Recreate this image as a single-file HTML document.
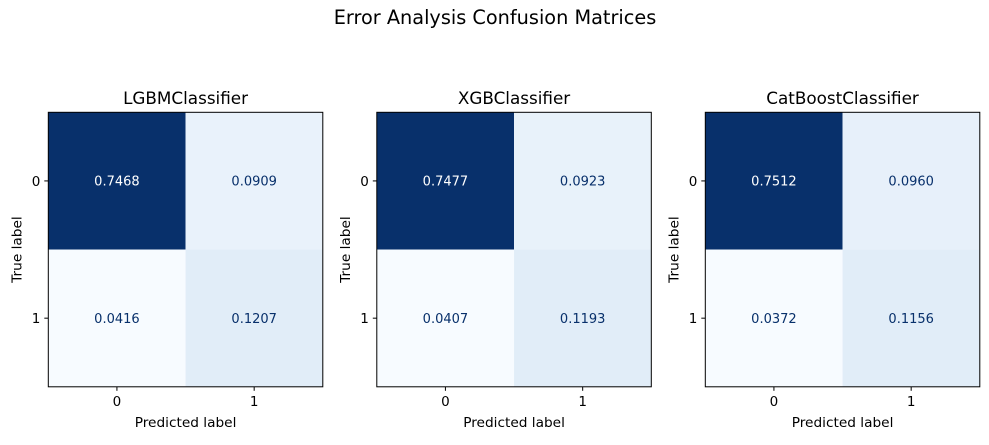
<!DOCTYPE html>
<html><head><meta charset="utf-8"><style>
html,body{margin:0;padding:0;background:#fff;}
svg text{font-family:"DejaVu Sans","Liberation Sans",sans-serif;}
</style></head><body>
<svg id="fig" width="989" height="440" viewBox="0 0 989 440" xmlns="http://www.w3.org/2000/svg">
<text x="495" y="24" text-anchor="middle" font-size="19.3" fill="#000">Error Analysis Confusion Matrices</text>
</svg>
<script>
const models = ["LGBMClassifier","XGBClassifier","CatBoostClassifier"];
const lgbmValues = [0.7468,0.0909,0.0416,0.1207];
const xgbValues = [0.7477,0.0923,0.0407,0.1193];
const catValues = [0.7512,0.0960,0.0372,0.1156];
const classLabels = ["0","1"];
const allValues = [lgbmValues,xgbValues,catValues];

const blues = ["#f7fbff","#deebf7","#c6dbef","#9ecae1","#6baed6","#4292c6","#2171b5","#08519c","#08306b"];
function hex(c){return [1,3,5].map(i=>parseInt(c.substr(i,2),16));}
function cmap(t){t=Math.max(0,Math.min(1,t));const p=t*8,i=Math.min(7,Math.floor(p)),f=p-i;
 const a=hex(blues[i]),b=hex(blues[i+1]);return "rgb("+a.map((v,k)=>Math.round(v+(b[k]-v)*f)).join(",")+")";}

const svg=document.getElementById('fig');
const NS="http://www.w3.org/2000/svg";
function mk(tag,attrs,parent){const e=document.createElementNS(NS,tag);for(const k in attrs)e.setAttribute(k,attrs[k]);(parent||svg).appendChild(e);return e;}
const axLeft=[48.3,376.8,705.3], axTop=112.3, axSize=274.5;

models.forEach((m,mi)=>{
 const vals=allValues[mi];
 const g=mk('g',{});
 
 
 const x0=axLeft[mi], cw=axSize/classLabels.length;
 const xs=i=>x0+i*cw, ys=i=>axTop+i*cw;
 const mn=Math.min(...vals), mx=Math.max(...vals);
 vals.forEach((v,k)=>{
  const r=Math.floor(k/2), c=k%2, t=(v-mn)/(mx-mn);
  const rect=mk('rect',{x:xs(c),y:ys(r),width:cw,height:cw,fill:cmap(t)},g);
  
  
  const tx=mk('text',{x:xs(c)+cw/2,y:ys(r)+cw/2+4.7,'text-anchor':'middle','font-size':'13',fill:t>0.5?'#ffffff':'#08306b'},g);
  tx.textContent=v.toFixed(4);
  
  
 });
 const fr=mk('rect',{x:x0,y:axTop,width:axSize,height:axSize,fill:'none',stroke:'#000','stroke-width':1},g);
 
 
 classLabels.forEach((l,i)=>{
  const cx=xs(i)+cw/2, cy=ys(i)+cw/2;
  mk('line',{x1:cx,y1:axTop+axSize,x2:cx,y2:axTop+axSize+4,stroke:'#000'},g);
  mk('line',{x1:x0-4,y1:cy,x2:x0,y2:cy,stroke:'#000'},g);
  const a=mk('text',{x:cx,y:axTop+axSize+19,'text-anchor':'middle','font-size':'13.5'},g);a.textContent=l;
  
  
  const b=mk('text',{x:x0-8,y:cy+5,'text-anchor':'end','font-size':'13.5'},g);b.textContent=l;
  
  
 });
 const ti=mk('text',{x:x0+axSize/2,y:104,'text-anchor':'middle','font-size':'16.8'},g);ti.textContent=m;
 
 
 const xl=mk('text',{x:x0+axSize/2,y:427,'text-anchor':'middle','font-size':'13.7'},g);xl.textContent="Predicted label";
 
 
 const yl=mk('text',{x:0,y:0,'text-anchor':'middle','font-size':'13.7',transform:'translate('+(x0-27)+','+(axTop+axSize/2)+') rotate(-90)'},g);yl.textContent="True label";
 
 
});
</script>
</body></html>
